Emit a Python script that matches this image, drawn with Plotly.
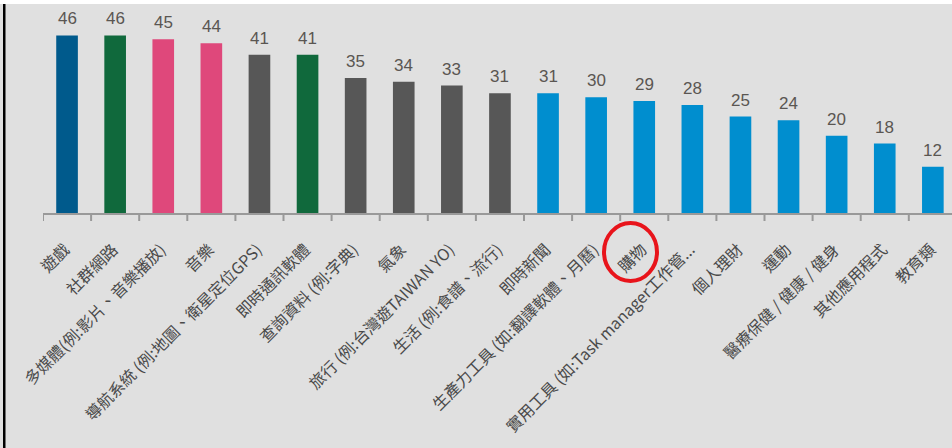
import plotly.graph_objects as go

categories = [
    "遊戲", "社群網路", "多媒體(例:影片、音樂播放)", "音樂",
    "導航系統 (例:地圖、衛星定位GPS)", "即時通訊軟體", "查詢資料 (例:字典)", "氣象",
    "旅行 (例:台灣遊TAIWAN YO)", "生活 (例:食譜、流行)", "即時新聞",
    "生產力工具 (如:翻譯軟體、月曆)", "購物", "實用工具 (如:Task manager工作管...",
    "個人理財", "運動", "醫療保健 / 健康 / 健身", "其他應用程式", "教育類",
]
values = [46, 46, 45, 44, 41, 41, 35, 34, 33, 31, 31, 30, 29, 28, 25, 24, 20, 18, 12]
bar_colors = [
    "#005a8c", "#10693c", "#df487b", "#df487b", "#575757", "#10693c",
    "#575757", "#575757", "#575757", "#575757",
    "#008ecf", "#008ecf", "#008ecf", "#008ecf", "#008ecf", "#008ecf",
    "#008ecf", "#008ecf", "#008ecf",
]

W_FIG, H_FIG = 952, 448
L, R, T, B = 43, 0, 20, 235
PW = W_FIG - L - R
PH = H_FIG - T - B


def px(x):
    return (x - L) / PW


def py(y):
    return 1 - (y - T) / PH


xs = list(range(len(categories)))

fig = go.Figure(
    go.Bar(
        x=xs,
        y=values,
        marker=dict(color=bar_colors, line=dict(width=0)),
        width=0.45,
        hoverinfo="skip",
    )
)

annotations = [
    dict(x=x, y=v, xref="x", yref="y", text=str(v), showarrow=False,
         yanchor="bottom", yshift=5,
         font=dict(family="Liberation Sans, Arial", size=17, color="#5a5652"))
    for x, v in zip(xs, values)
]

fig.update_layout(
    width=W_FIG,
    height=H_FIG,
    margin=dict(l=L, r=R, t=T, b=B, autoexpand=False),
    paper_bgcolor="#e0e0e0",
    plot_bgcolor="#e0e0e0",
    showlegend=False,
    annotations=annotations,
    xaxis=dict(
        automargin=False,
        tickmode="array",
        tickvals=xs,
        ticktext=categories,
        range=[-0.5, -0.5 + PW / 48.1],
        tickangle=-45,
        tickfont=dict(family="Noto Sans CJK TC", size=16, color="#4a4a4a"),
        ticklabelstandoff=19,
        ticklabelshift=-2,
        showgrid=False,
        zeroline=False,
        showline=True,
        linecolor="#999999",
        linewidth=2,
        ticks="",
    ),
    yaxis=dict(range=[0, 50], visible=False, showgrid=False, zeroline=False,
               automargin=False),
    shapes=[
        *[
            dict(type="line", xref="x", yref="paper", x0=i - 0.5, x1=i - 0.5,
                 y0=0, y1=py(221), line=dict(color="#999999", width=2))
            for i in range(len(categories) + 1)
        ],
        dict(type="rect", xref="paper", yref="paper", x0=px(0), x1=px(W_FIG),
             y0=py(4), y1=py(0), fillcolor="white", line=dict(width=0), layer="above"),
        dict(type="rect", xref="paper", yref="paper", x0=px(3), x1=px(5.5),
             y0=py(H_FIG), y1=py(4), fillcolor="black", line=dict(width=0), layer="above"),
        dict(type="circle", xref="paper", yref="paper", x0=px(604), x1=px(657),
             y0=py(281), y1=py(223), line=dict(color="#e8141b", width=4), layer="above"),
    ],
)

fig.write_html(
    "out.html",
    config={"displayModeBar": False},
    post_script="document.body.style.margin='0';document.body.style.overflow='hidden';",
)
